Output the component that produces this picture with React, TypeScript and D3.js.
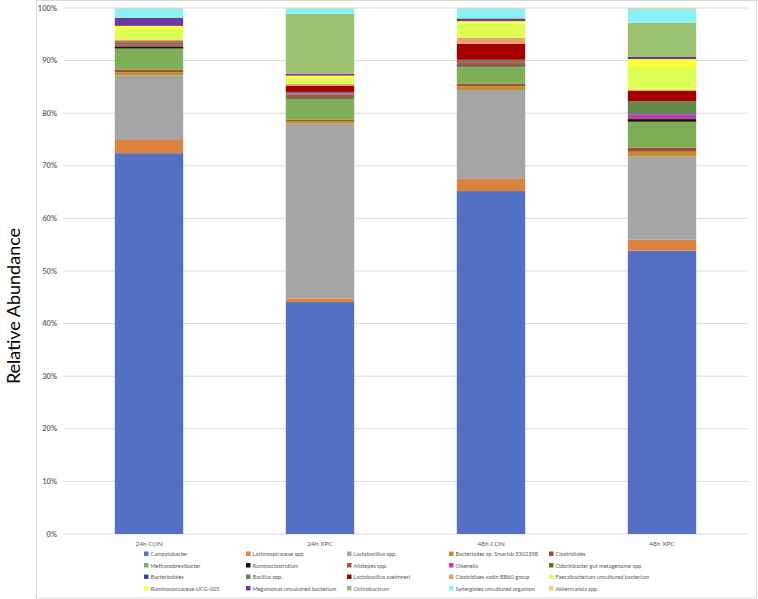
import React from "react";
import * as d3 from "d3";

const categories = ["24h CON", "24h XPC", "48h CON", "48h XPC"];

const seriesNames = [
  "Campylobacter",
  "Lachnospiraceae spp.",
  "Lactobacillus spp.",
  "Bacteriodes sp. Smarlab 3302398",
  "Clostridiales",
  "Methanobrevibacter",
  "Ruminoclostridium",
  "Alistepes spp.",
  "Olsenella",
  "Odorinbacter gut metagenome spp.",
  "Bacteriodales",
  "Bacillus spp.",
  "Lactobacillus saeimneri",
  "Clostridiaes vadin BB60 group",
  "Faecalbacterium uncultured bacterium",
  "Ruminococcaceae UCG-005",
  "Megamonas unculutred bacterium",
  "Ochrobactrum",
  "Synergistes uncultured organism",
  "Akkermansia spp.",
];

const seriesColors = [
  "#5470C4", "#DA823E", "#A5A5A5", "#BF8F2A", "#A0522D",
  "#7EAE55", "#111111", "#9C5A4A", "#CC33CC", "#7A6428",
  "#2E4A8C", "#62894A", "#A50000", "#E8A070", "#DDFF55",
  "#FFFF33", "#6A3AA0", "#9CC072", "#88F0F8", "#F5D070",
];

// values per series, in category order (percent)
const campylobacter = [72.4, 44.1, 65.2, 53.8];
const lachnospiraceae = [2.5, 0.7, 2.3, 2.1];
const lactobacillus = [12.3, 33.2, 16.9, 15.8];
const bacteriodesSp = [0.6, 0.5, 0.7, 0.9];
const clostridiales = [0.5, 0.3, 0.5, 0.8];
const methanobrevibacter = [4.0, 4.0, 3.3, 4.9];
const ruminoclostridium = [0.3, 0.2, 0.2, 0.5];
const alistepes = [0.5, 0.6, 0.6, 0.2];
const olsenella = [0.05, 0.15, 0.05, 0.6];
const odorinbacter = [0.3, 0.1, 0.3, 0.1];
const bacteriodales = [0.05, 0.15, 0.05, 0.2];
const bacillus = [0.1, 0.05, 0.05, 2.3];
const lactobacillusSaeimneri = [0.1, 1.2, 3.05, 2.0];
const clostridiaesVadin = [0.3, 0.3, 1.1, 0.2];
const faecalbacterium = [2.0, 1.1, 2.8, 4.3];
const ruminococcaceae = [0.6, 0.5, 0.4, 1.5];
const megamonas = [1.5, 0.35, 0.5, 0.4];
const ochrobactrum = [0.1, 11.4, 0.1, 6.5];
const synergistes = [1.7, 1.0, 1.8, 2.6];
const akkermansia = [0.1, 0.1, 0.1, 0.2];

const yTicks = [0, 10, 20, 30, 40, 50, 60, 70, 80, 90, 100];

const seriesValues = [
  campylobacter, lachnospiraceae, lactobacillus, bacteriodesSp, clostridiales,
  methanobrevibacter, ruminoclostridium, alistepes, olsenella, odorinbacter,
  bacteriodales, bacillus, lactobacillusSaeimneri, clostridiaesVadin, faecalbacterium,
  ruminococcaceae, megamonas, ochrobactrum, synergistes, akkermansia,
];

export default function App() {
  const W = 758;
  const H = 599;
  const plotLeft = 63.5;
  const plotRight = 747.5;
  const y0 = 534;
  const y100 = 8;

  const x = d3.scaleBand<string>().domain(categories).range([plotLeft, plotRight]).paddingInner(0.6).paddingOuter(0.3);
  const y = d3.scaleLinear().domain([0, 100]).range([y0, y100]);

  const rows = categories.map((c, i) => {
    const r: Record<string, number | string> = { cat: c };
    seriesNames.forEach((s, j) => (r[s] = seriesValues[j][i]));
    return r;
  });
  const stack = d3.stack<any>().keys(seriesNames)(rows);
  const totals = categories.map((_, i) => d3.sum(seriesValues, (s) => s[i]));

  const font = "Lato, 'Open Sans', sans-serif";
  const legendCols = [144, 246, 347, 449, 549];
  const legendRows = [556, 567.5, 579, 590.5];

  return (
    <svg width={W} height={H} style={{ position: "absolute", left: 0, top: 0, background: "#fff" }} fontFamily={font}>
      <rect x={36.5} y={0.5} width={720} height={597.5} fill="none" stroke="#d9d9d9" strokeWidth={1} />
      {yTicks.map((t) => (
        <g key={t}>
          <line x1={plotLeft} x2={plotRight} y1={y(t)} y2={y(t)} stroke="#d9d9d9" strokeWidth={1} />
          <text x={57} y={y(t) + 2.5} textAnchor="end" fontSize={7.5} fill="#595959" fontWeight={600}>
            {t}%
          </text>
        </g>
      ))}
      {stack.map((layer, j) => (
        <g key={seriesNames[j]} fill={seriesColors[j]}>
          {layer.map((d, i) => {
            const k = 100 / totals[i];
            const top = y(d[1] * k);
            const bot = y(d[0] * k);
            return (
              <rect key={i} x={x(categories[i])} width={x.bandwidth()} y={top} height={Math.max(0, bot - top)} />
            );
          })}
        </g>
      ))}
      {categories.map((c) => (
        <text key={c} x={(x(c) as number) + x.bandwidth() / 2} y={546} textAnchor="middle" fontSize={6.5} fill="#595959">
          {c}
        </text>
      ))}
      <text transform={`translate(20,306) rotate(-90)`} textAnchor="middle" fontSize={18} fill="#000">
        Relative Abundance
      </text>
      {seriesNames.map((s, j) => {
        const col = j % 5;
        const row = Math.floor(j / 5);
        const lx = legendCols[col];
        const ly = legendRows[row];
        return (
          <g key={s}>
            <rect x={lx} y={ly - 4.5} width={4.5} height={4.5} fill={seriesColors[j]} />
            <text x={lx + 6.5} y={ly} fontSize={5.6} fill="#595959">
              {s}
            </text>
          </g>
        );
      })}
    </svg>
  );
}
